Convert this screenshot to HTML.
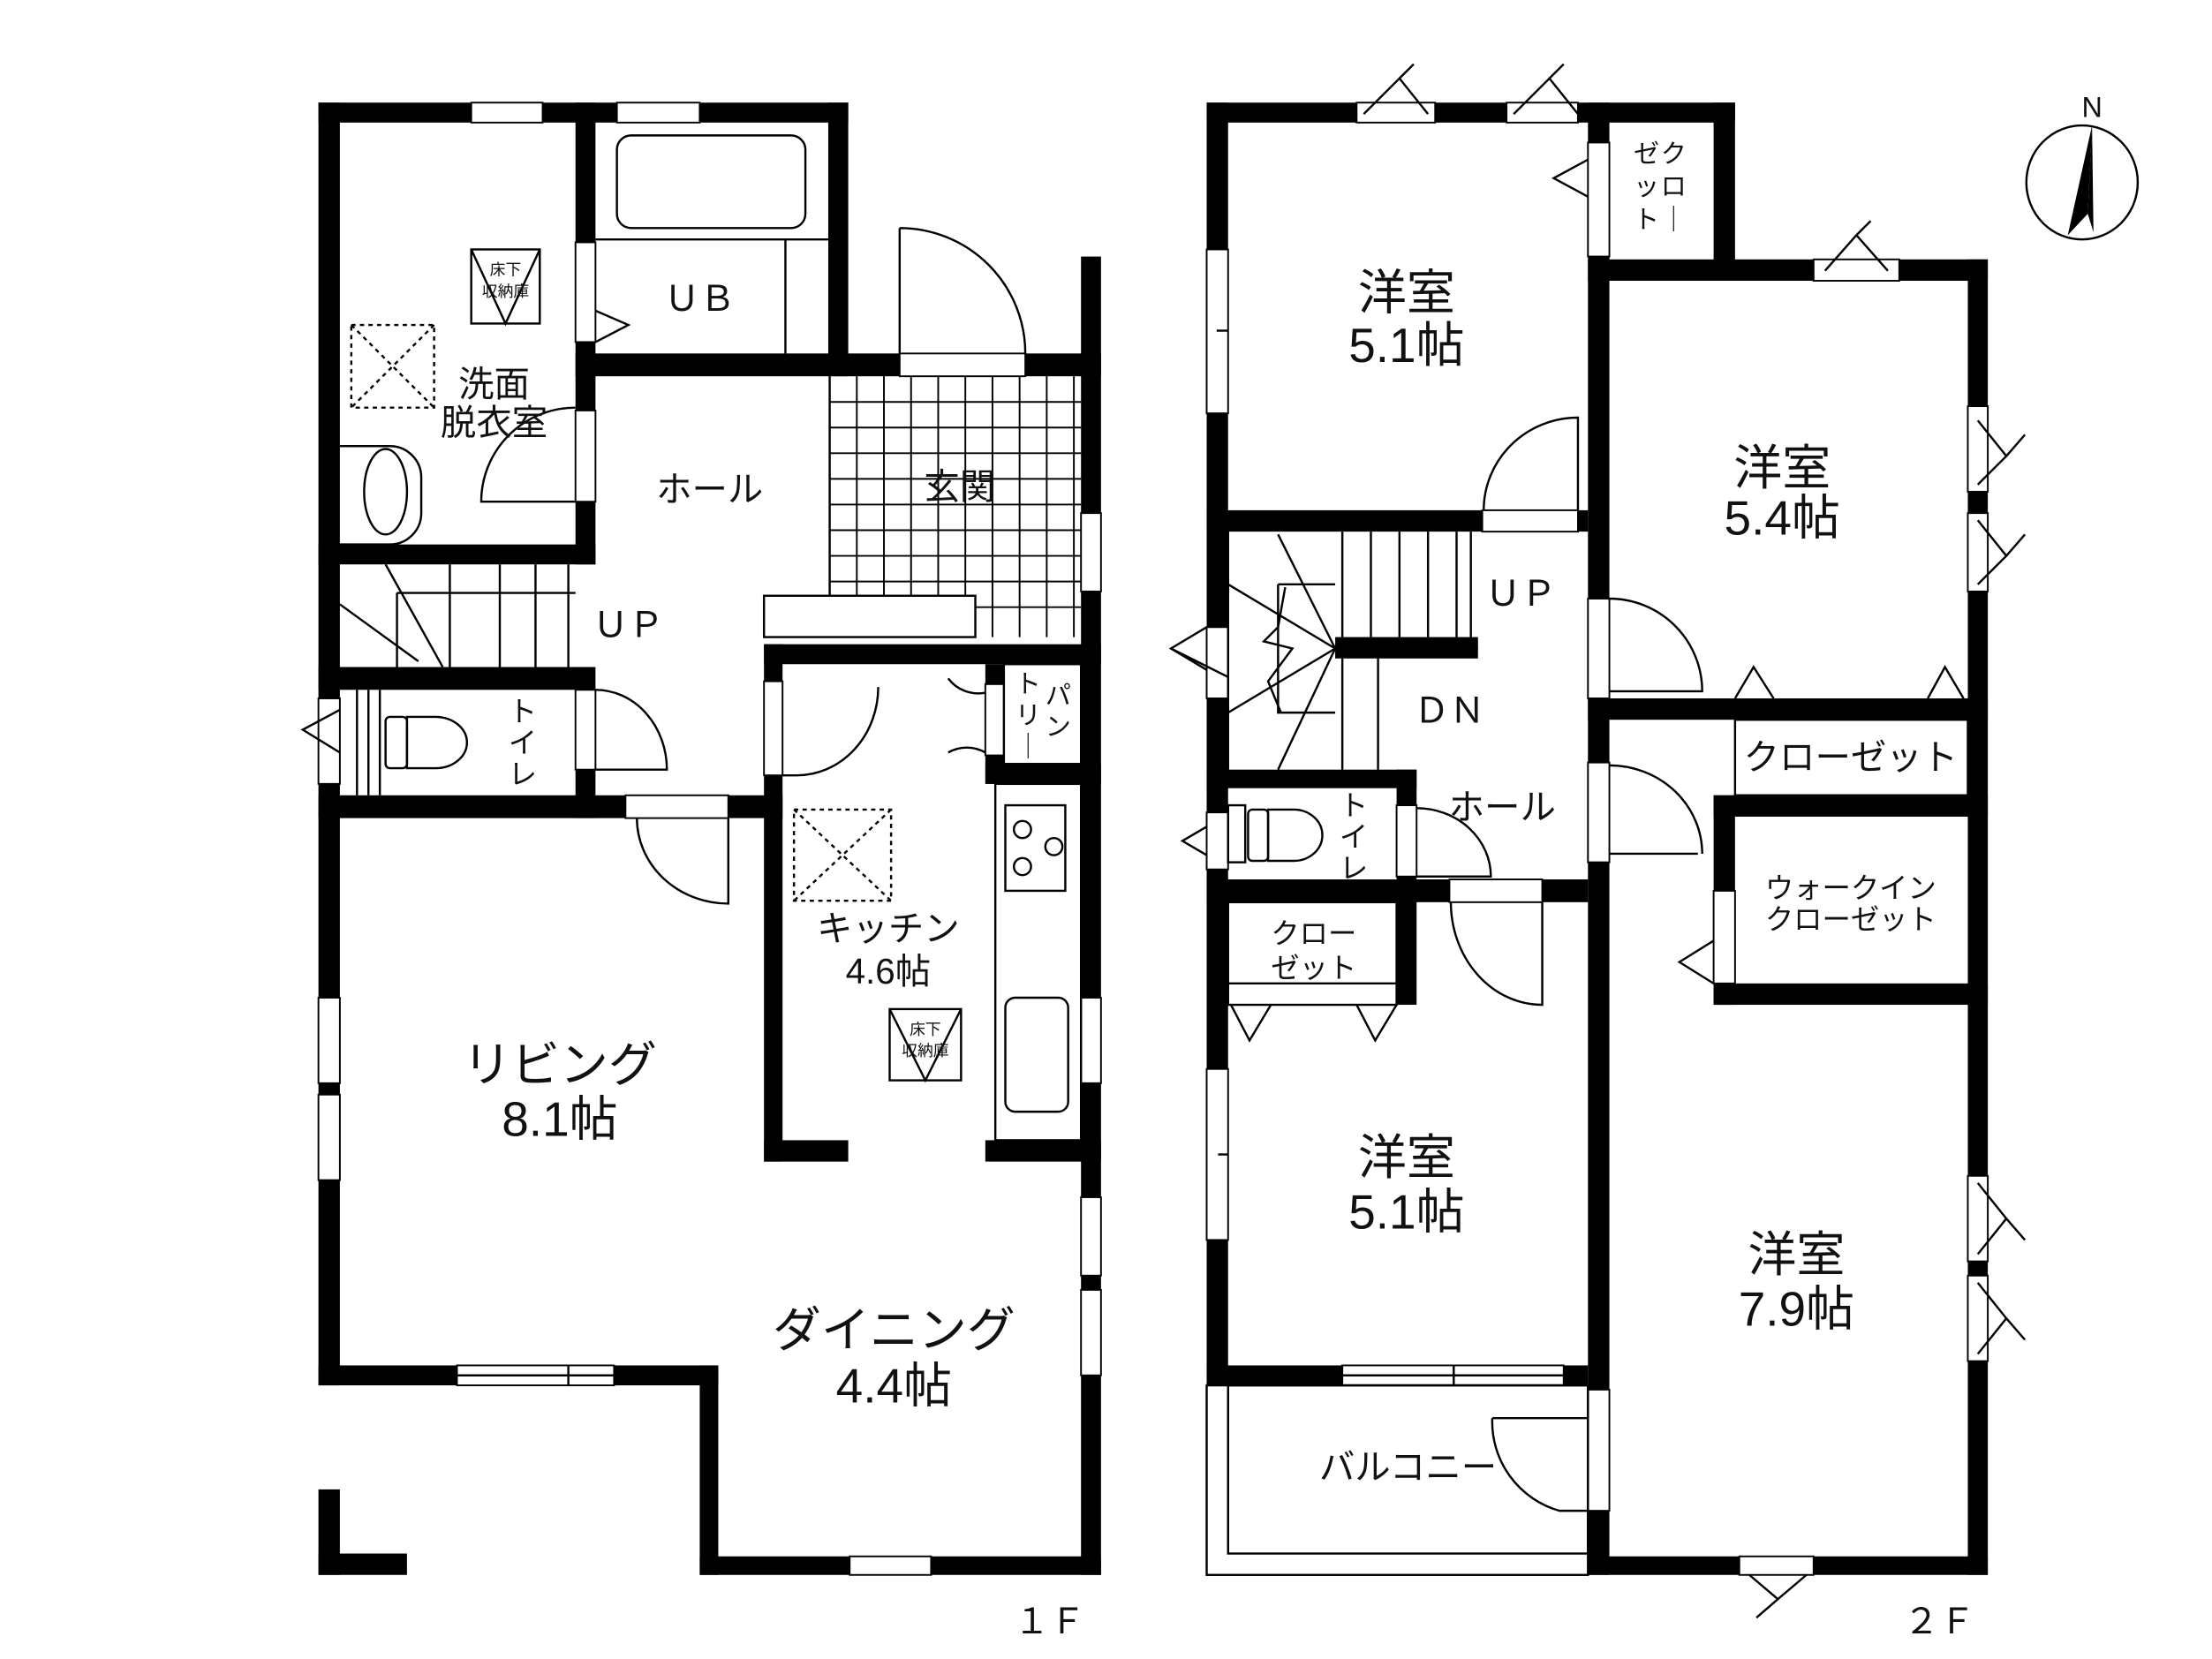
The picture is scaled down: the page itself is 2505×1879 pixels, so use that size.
<!DOCTYPE html>
<html><head><meta charset="utf-8"><style>html,body{margin:0;padding:0;background:#fff}svg{display:block}text{font-family:"Liberation Sans","Noto Sans CJK JP",sans-serif;fill:#111}</style></head><body>
<svg width="2505" height="1879" viewBox="0 0 1549 1164" preserveAspectRatio="none" xmlns="http://www.w3.org/2000/svg">
<rect width="1549" height="1164" fill="#fff"/>
<g fill="#000">
<rect x="223" y="72" width="371" height="14"/>
<rect x="223" y="72" width="15" height="900"/>
<rect x="403" y="72" width="14" height="324"/>
<rect x="580" y="72" width="14" height="192"/>
<rect x="403" y="248" width="227" height="16"/>
<rect x="718" y="248" width="53" height="16"/>
<rect x="757" y="180" width="14" height="925"/>
<rect x="223" y="382" width="194" height="14"/>
<rect x="223" y="468" width="194" height="16"/>
<rect x="403" y="484" width="14" height="90"/>
<rect x="223" y="558" width="325" height="16"/>
<rect x="535" y="452" width="236" height="14"/>
<rect x="535" y="452" width="13" height="363"/>
<rect x="535" y="800" width="59" height="15"/>
<rect x="690" y="800" width="81" height="15"/>
<rect x="690" y="466" width="13" height="84"/>
<rect x="690" y="536" width="81" height="14"/>
<rect x="223" y="958" width="280" height="14"/>
<rect x="490" y="958" width="13" height="147"/>
<rect x="490" y="1092" width="281" height="13"/>
<rect x="223" y="1045" width="15" height="60"/>
<rect x="223" y="1090" width="62" height="15"/>
<rect x="845" y="72" width="370" height="14"/>
<rect x="845" y="72" width="15" height="900"/>
<rect x="1112" y="72" width="15" height="1033"/>
<rect x="1200" y="72" width="15" height="123"/>
<rect x="1112" y="182" width="280" height="15"/>
<rect x="1378" y="182" width="14" height="923"/>
<rect x="845" y="358" width="267" height="15"/>
<rect x="935" y="447" width="100" height="15"/>
<rect x="845" y="540" width="147" height="13"/>
<rect x="978" y="540" width="14" height="165"/>
<rect x="845" y="617" width="267" height="16"/>
<rect x="1112" y="490" width="280" height="15"/>
<rect x="1200" y="558" width="192" height="15"/>
<rect x="1200" y="558" width="15" height="147"/>
<rect x="1200" y="690" width="192" height="15"/>
<rect x="845" y="958" width="267" height="14"/>
<rect x="1112" y="1092" width="280" height="13"/>
</g>
<g fill="#fff" stroke="#000" stroke-width="1.2">
<rect x="330" y="72" width="50" height="14"/><rect x="432" y="72" width="58" height="14"/>
<rect x="403" y="170" width="14" height="70"/><rect x="403" y="288" width="14" height="64"/>
<rect x="630" y="248" width="88" height="16"/>
<rect x="757" y="360" width="14" height="55"/><rect x="757" y="700" width="14" height="60"/>
<rect x="757" y="840" width="14" height="55"/><rect x="757" y="905" width="14" height="60"/>
<rect x="223" y="700" width="15" height="60"/><rect x="223" y="768" width="15" height="60"/>
<rect x="223" y="490" width="15" height="60"/>
<rect x="403" y="484" width="14" height="56"/>
<rect x="438" y="558" width="72" height="16"/>
<rect x="535" y="478" width="13" height="66"/>
<rect x="690" y="480" width="13" height="50"/>
<rect x="320" y="958" width="110" height="14"/>
<rect x="595" y="1092" width="57" height="13"/>
<rect x="950" y="72" width="55" height="14"/><rect x="1055" y="72" width="50" height="14"/>
<rect x="845" y="175" width="15" height="115"/>
<rect x="1112" y="100" width="15" height="80"/>
<rect x="1270" y="182" width="60" height="15"/>
<rect x="1378" y="285" width="14" height="60"/><rect x="1378" y="360" width="14" height="55"/>
<rect x="1378" y="825" width="14" height="60"/><rect x="1378" y="895" width="14" height="60"/>
<rect x="1038" y="358" width="67" height="15"/>
<rect x="1112" y="420" width="15" height="70"/><rect x="1112" y="535" width="15" height="70"/>
<rect x="845" y="440" width="15" height="50"/><rect x="845" y="570" width="15" height="40"/>
<rect x="978" y="565" width="14" height="50"/>
<rect x="1015" y="617" width="65" height="16"/>
<rect x="845" y="750" width="15" height="120"/>
<rect x="1200" y="625" width="15" height="65"/>
<rect x="940" y="958" width="155" height="14"/>
<rect x="1112" y="975" width="15" height="85"/>
<rect x="1218" y="1092" width="52" height="13"/>
</g>
<g fill="none" stroke="#000" stroke-width="1.5">
<rect x="432" y="95" width="132" height="65" rx="10"/>
<line x1="417" y1="168" x2="580" y2="168"/><line x1="550" y1="168" x2="550" y2="248"/>
<polyline points="417,218 440,228 417,240"/>
<rect x="330" y="175" width="48" height="52"/><polyline points="330,175 354,227 378,175"/>
<rect x="246" y="228" width="58" height="58" stroke-dasharray="3,3"/><path d="M246 228L304 286M304 228L246 286" stroke-dasharray="3,3"/>
<path d="M238 313h35a22 22 0 0 1 22 22v25a22 22 0 0 1 -22 22h-35"/><ellipse cx="270" cy="345" rx="15" ry="30"/>
<path d="M403 352h-66a66 66 0 0 1 66 -66" />
<path d="M270 396L310 468M238 424l55 40"/>
<path d="M278 416h125M278 416v52"/>
<line x1="315" y1="396" x2="315" y2="468"/><line x1="350" y1="396" x2="350" y2="468"/><line x1="375" y1="396" x2="375" y2="468"/><line x1="398" y1="396" x2="398" y2="468"/>
<line x1="250" y1="484" x2="250" y2="558"/><line x1="258" y1="484" x2="258" y2="558"/><line x1="266" y1="484" x2="266" y2="558"/>
<rect x="270" y="503" width="15" height="36" rx="3"/><path d="M285 503h20a22 18 0 0 1 0 36h-20z"/>
<polyline points="238,498 212,512 238,528"/>
<path d="M417 484a50 56 0 0 1 50 56h-50"/>
<path d="M630 160v88M630 160a88 88 0 0 1 88 88"/>
<rect x="535" y="418" width="148" height="29"/>
<path d="M581 264v154"/>
<g stroke-width="1.2">
<line x1="600" y1="264" x2="600" y2="418"/><line x1="619" y1="264" x2="619" y2="418"/><line x1="638" y1="264" x2="638" y2="418"/><line x1="657" y1="264" x2="657" y2="418"/><line x1="676" y1="264" x2="676" y2="418"/><line x1="695" y1="264" x2="695" y2="447"/><line x1="714" y1="264" x2="714" y2="447"/><line x1="733" y1="264" x2="733" y2="447"/><line x1="752" y1="264" x2="752" y2="447"/>
<line x1="581" y1="282" x2="757" y2="282"/><line x1="581" y1="300" x2="757" y2="300"/><line x1="581" y1="318" x2="757" y2="318"/><line x1="581" y1="336" x2="757" y2="336"/><line x1="581" y1="354" x2="757" y2="354"/><line x1="581" y1="372" x2="757" y2="372"/><line x1="581" y1="390" x2="757" y2="390"/><line x1="581" y1="408" x2="757" y2="408"/><line x1="683" y1="426" x2="757" y2="426"/>
</g>
<path d="M510 574v60a64 60 0 0 1 -64 -60"/>
<path d="M548 544h10a57 62 0 0 0 57 -62"/>
<path d="M690 486a26 26 0 0 1 -26 -10M690 528a26 26 0 0 0 -26 0"/>
<rect x="703" y="466" width="54" height="70"/>
<rect x="697" y="550" width="60" height="250"/>
<rect x="704" y="565" width="42" height="60"/>
<circle cx="716" cy="582" r="6"/><circle cx="738" cy="594" r="6"/><circle cx="716" cy="608" r="6"/>
<rect x="704" y="700" width="44" height="80" rx="7"/>
<rect x="556" y="568" width="68" height="64" stroke-dasharray="3,3"/><path d="M556 568L624 632M624 568L556 632" stroke-dasharray="3,3"/>
<rect x="623" y="708" width="50" height="50"/><polyline points="623,708 648,758 673,708"/>
<line x1="320" y1="965" x2="430" y2="965"/><line x1="398" y1="958" x2="398" y2="972"/>
<polyline points="955,80 980,55 1000,80"/><line x1="980" y1="55" x2="990" y2="45"/>
<polyline points="1060,80 1085,55 1105,80"/><line x1="1085" y1="55" x2="1095" y2="45"/>
<polyline points="1278,190 1300,165 1322,190"/><line x1="1300" y1="165" x2="1310" y2="155"/>
<polyline points="1112,112 1088,125 1112,138"/>
<line x1="852" y1="232" x2="860" y2="232"/>
<path d="M1105 358v-65a66 65 0 0 0 -66 65"/>
<polyline points="1385,295 1405,320 1385,340"/><line x1="1405" y1="320" x2="1418" y2="305"/>
<polyline points="1385,365 1405,390 1385,410"/><line x1="1405" y1="390" x2="1418" y2="375"/>
<polyline points="1385,830 1405,855 1385,880"/><line x1="1405" y1="855" x2="1418" y2="870"/>
<polyline points="1385,900 1405,925 1385,950"/><line x1="1405" y1="925" x2="1418" y2="940"/>
<path d="M1127 420a65 65 0 0 1 65 65h-65"/>
<path d="M1127 537a65 62 0 0 1 65 62M1127 599h62"/>
<path d="M860 373v167"/>
<line x1="940" y1="373" x2="940" y2="447"/><line x1="960" y1="373" x2="960" y2="447"/><line x1="980" y1="373" x2="980" y2="447"/><line x1="1000" y1="373" x2="1000" y2="447"/><line x1="1020" y1="373" x2="1020" y2="447"/>
<line x1="940" y1="462" x2="940" y2="540"/><line x1="965" y1="462" x2="965" y2="540"/>
<line x1="1030" y1="373" x2="1030" y2="447"/>
<path d="M895 410h40M895 410v90h40M895 375L935 455L895 540M860 410L935 455L860 500M935 455h100"/>
<polyline points="900,412 895,440 885,450 905,455 888,478 897,500"/>
<polyline points="845,440 820,455 845,470"/><line x1="820" y1="455" x2="860" y2="475"/>
<rect x="860" y="565" width="12" height="40"/><rect x="874" y="568" width="14" height="36" rx="3"/><path d="M888 568h18a20 18 0 0 1 0 36h-18z"/>
<polyline points="845,580 828,590 845,600"/>
<path d="M992 567a52 48 0 0 1 52 48h-52"/>
<path d="M1080 633v72a64 72 0 0 1 -64 -72"/>
<rect x="860" y="633" width="118" height="72"/><line x1="860" y1="690" x2="978" y2="690"/>
<polyline points="862,705 875,730 890,705"/><polyline points="950,705 963,730 978,705"/>
<line x1="853" y1="810" x2="860" y2="810"/><line x1="1018" y1="958" x2="1018" y2="972"/><line x1="940" y1="965" x2="1095" y2="965"/>
<rect x="845" y="972" width="267" height="133"/><rect x="860" y="972" width="252" height="118"/>
<path d="M1112 1060h-20a65 65 0 0 1 -47 -65"/><line x1="1045" y1="995" x2="1112" y2="995"/>
<rect x="1215" y="505" width="163" height="53"/><line x1="1215" y1="495" x2="1378" y2="495"/>
<polyline points="1215,490 1228,468 1242,490"/><polyline points="1350,490 1362,468 1375,490"/>
<polyline points="1200,660 1176,675 1200,690"/>
<polyline points="1225,1105 1245,1122 1265,1105"/><line x1="1245" y1="1122" x2="1230" y2="1135"/>
<ellipse cx="1458" cy="128" rx="39" ry="40"/>
</g>
<polygon points="1465,88 1448,165 1462,150" fill="#000"/>
<polygon points="1465,88 1462,150 1466,163" fill="#000"/>
<g font-size="34" text-anchor="middle">
<text x="985" y="217">洋室</text><text x="985" y="254">5.1帖</text>
<text x="1248" y="340">洋室</text><text x="1248" y="375">5.4帖</text>
<text x="985" y="824">洋室</text><text x="985" y="862">5.1帖</text>
<text x="1258" y="892">洋室</text><text x="1258" y="930">7.9帖</text>
<text x="392" y="759">リビング</text><text x="392" y="797">8.1帖</text>
<text x="626" y="945">ダイニング</text><text x="626" y="984">4.4帖</text>
</g>
<g font-size="25" text-anchor="middle">
<text x="622" y="660">キッチン</text><text x="622" y="690">4.6帖</text>
<text x="346" y="278">洗面</text><text x="346" y="305">脱衣室</text>
<text x="497" y="352">ホール</text><text x="672" y="350">玄関</text>
<text x="490" y="218">ＵＢ</text><text x="440" y="447">ＵＰ</text>
<text x="1065" y="425">ＵＰ</text><text x="1015" y="507">ＤＮ</text>
<text x="1052" y="575">ホール</text>
<text x="1296" y="540">クローゼット</text>
<text x="986" y="1038">バルコニー</text>
<text x="735" y="1146">１Ｆ</text><text x="1358" y="1146">２Ｆ</text>
</g>
<g font-size="20" text-anchor="middle">
<text x="1296" y="630">ウォークイン</text><text x="1296" y="652">クローゼット</text>
<text x="920" y="662">クロー</text><text x="920" y="686">ゼット</text>
</g>
<g font-size="20" text-anchor="middle">
<text x="366" y="506">ト</text><text x="366" y="528">イ</text><text x="366" y="550">レ</text>
<text x="948" y="572">ト</text><text x="948" y="594">イ</text><text x="948" y="616">レ</text>
</g>
<g font-size="18" text-anchor="middle">
<text x="1172" y="114">ク</text><text x="1172" y="137">ロ</text><text x="1172" y="160">｜</text>
<text x="1153" y="114">ゼ</text><text x="1153" y="137">ッ</text><text x="1153" y="160">ト</text>
<text x="741" y="494">パ</text><text x="741" y="516">ン</text>
<text x="720" y="486">ト</text><text x="720" y="508">リ</text><text x="720" y="530">｜</text>
</g>
<g font-size="11" text-anchor="middle">
<text x="354" y="193">床下</text><text x="354" y="208">収納庫</text>
<text x="648" y="726">床下</text><text x="648" y="741">収納庫</text>
</g>
<text x="1465" y="82" font-size="20" text-anchor="middle">N</text>
</svg>
</body></html>
